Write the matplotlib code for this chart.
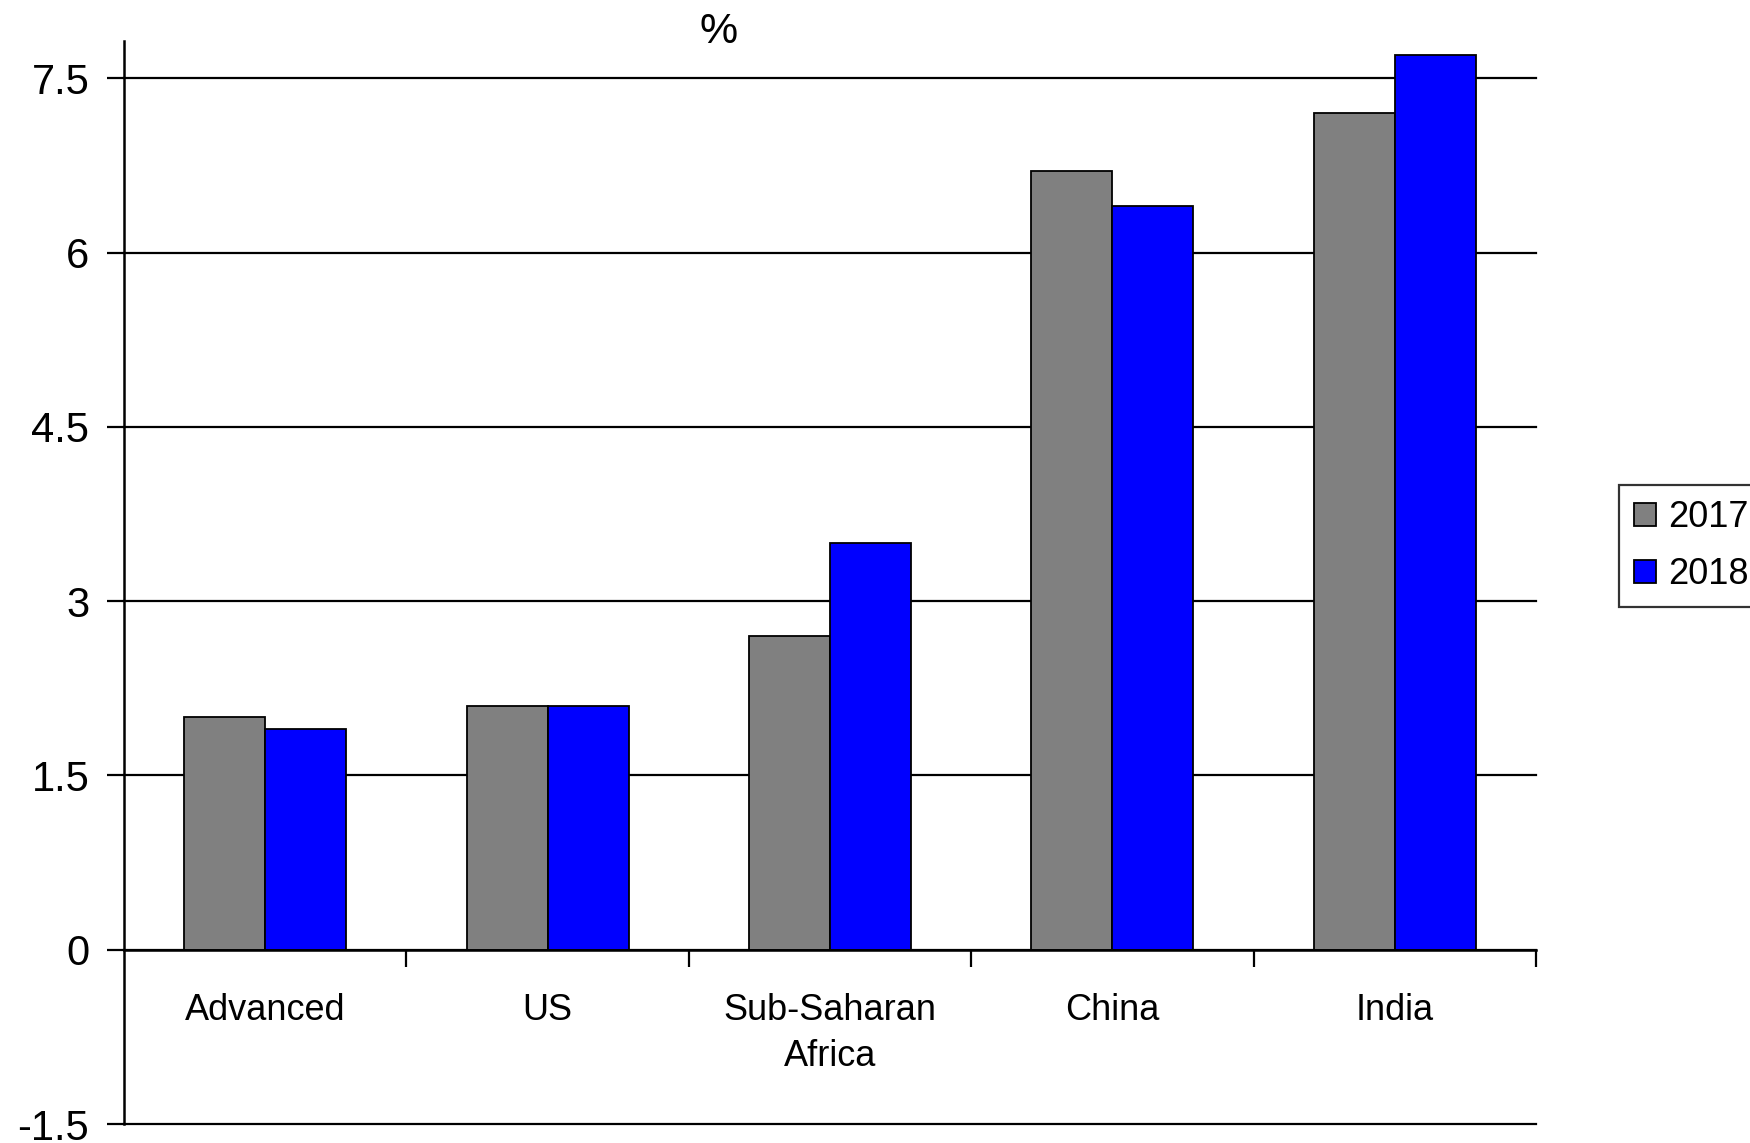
import numpy as np
import matplotlib.pyplot as plt

# GDP growth, %
categories = ["Advanced", "US", "Sub-Saharan\nAfrica", "China", "India"]
growth_2017 = [2.0, 2.1, 2.7, 6.7, 7.2]
growth_2018 = [1.9, 2.1, 3.5, 6.4, 7.7]
yticks = [-1.5, 0, 1.5, 3, 4.5, 6, 7.5]
ytick_labels = ["-1.5", "0", "1.5", "3", "4.5", "6", "7.5"]

plt.rcParams['font.family'] = ['Liberation Sans', 'DejaVu Sans']

fig = plt.figure(figsize=(17.5, 11.43), dpi=100)
ax = fig.add_axes([0.0709, 0.0166, 0.8068, 0.9475])

x = np.arange(len(categories))
w = 0.287
ax.bar(x - w / 2, growth_2017, w, color='#808080', edgecolor='black', linewidth=1.3, label='2017', zorder=3)
ax.bar(x + w / 2, growth_2018, w, color='#0000FF', edgecolor='black', linewidth=1.3, label='2018', zorder=3)

ax.set_xlim(-0.5, len(categories) - 0.5)
ax.set_ylim(-1.5, 7.82)

# gridlines
for v in yticks:
    ax.axhline(v, color='black', linewidth=1.6, zorder=1, clip_on=False)

ax.set_yticks(yticks)
ax.set_yticklabels(ytick_labels, fontsize=30)
ax.tick_params(axis='y', direction='out', length=12, width=1.6, pad=13)

ax.spines['top'].set_visible(False)
ax.spines['right'].set_visible(False)
ax.spines['left'].set_linewidth(1.8)
ax.spines['bottom'].set_position(('data', 0))
ax.spines['bottom'].set_linewidth(1.8)
ax.spines['bottom'].set_zorder(4)

ax.set_xticks(x)
ax.set_xticklabels(categories, fontsize=26, linespacing=1.4, va='top')
ax.tick_params(axis='x', which='major', length=0, pad=31)
ax.set_xticks(np.arange(0.5, len(categories)), minor=True)
ax.tick_params(axis='x', which='minor', direction='out', length=12, width=1.6)

fig.text(719 / 1750, 1 - 32 / 1143, '%', fontsize=31, ha='center', va='center')

leg = ax.legend(loc='upper left', bbox_to_anchor=(1619 / 1750, 1 - 485 / 1143), bbox_transform=fig.transFigure,
                borderaxespad=0, fontsize=26, frameon=True, fancybox=False, edgecolor='black',
                handlelength=0.6, handleheight=0.6, handletextpad=0.35, borderpad=0.42,
                labelspacing=0.6)
leg.get_frame().set_linewidth(1.6)

fig.savefig('out.png', dpi=100)
